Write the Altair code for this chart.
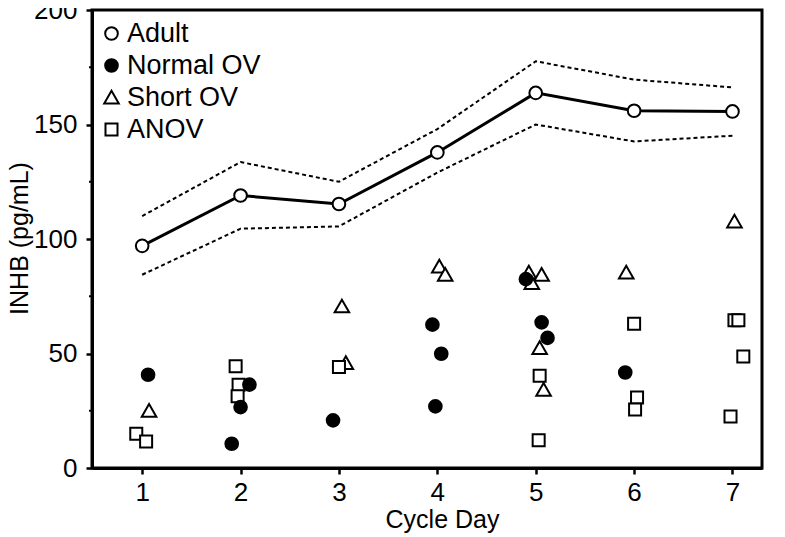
import altair as alt
import pandas as pd

# ---- data ----
days = [1, 2, 3, 4, 5, 6, 7]
adult_mean = [97, 119, 115.3, 137.8, 163.8, 156, 155.7]
adult_upper = [110, 133.6, 125, 148, 177.6, 169.6, 166.2]
adult_lower = [84.4, 104.5, 105.5, 129, 150, 142.6, 145.1]

normal_x = [1.06, 2.09, 2.00, 1.91, 2.94, 3.95, 4.04, 3.98, 4.90, 5.06, 5.12, 5.91]
normal_y = [40.7, 36.4, 26.6, 10.6, 20.8, 62.6, 49.9, 26.9, 82.5, 63.6, 56.8, 41.7]

short_x = [1.07, 3.07, 3.03, 4.02, 4.08, 4.93, 5.06, 4.96, 5.04, 5.08, 5.92, 7.02]
short_y = [25.0, 45.9, 70.6, 88.0, 84.4, 85.4, 84.4, 80.8, 52.4, 34.2, 85.4, 107.7]

anov_x = [0.94, 1.04, 1.95, 1.98, 1.97, 3.00, 5.04, 5.03, 6.00, 6.03, 6.01, 7.02, 7.06, 6.98, 7.11]
anov_y = [15.0, 11.6, 44.4, 36.4, 31.3, 44.1, 40.3, 12.1, 63.0, 30.8, 25.5, 64.5, 64.5, 22.5, 48.7]

groups = ["Adult", "Normal OV", "Short OV", "ANOV"]
TRI = "M0,-1.05L1.15,0.95L-1.15,0.95Z"
SQR = "M-0.95,-0.95L0.95,-0.95L0.95,0.95L-0.95,0.95Z"
shapes = ["circle", "circle", TRI, SQR]
fills = ["white", "black", "white", "white"]
strokes = ["black", "black", "black", "black"]

FONT = "Liberation Sans"

band = pd.DataFrame({
    "day": days * 2,
    "val": adult_upper + adult_lower,
    "bound": ["upper"] * 7 + ["lower"] * 7,
})
mean_df = pd.DataFrame({"day": days, "val": adult_mean})

pts = pd.DataFrame({
    "day": days + normal_x + short_x + anov_x,
    "val": adult_mean + normal_y + short_y + anov_y,
    "group": ["Adult"] * 7 + ["Normal OV"] * len(normal_x)
             + ["Short OV"] * len(short_x) + ["ANOV"] * len(anov_x),
})
order_map = {"Short OV": 0, "ANOV": 1, "Normal OV": 2, "Adult": 3}
pts["ord"] = pts["group"].map(order_map)

minor_df = pd.DataFrame({"val": [25, 75, 125, 175]})

xscale = alt.Scale(domain=[0.49, 7.3], nice=False, zero=False)
yscale = alt.Scale(domain=[0, 200], nice=False)

xaxis = alt.Axis(
    values=days, title="Cycle Day", format="d", grid=False,
    labelFont=FONT, labelFontSize=26, labelColor="black", labelPadding=5,
    tickSize=6, tickWidth=2.5, tickColor="black",
    domainColor="black", domainWidth=3,
    titleFont=FONT, titleFontSize=25, titleFontWeight="normal", titleColor="black",
    titleX=350, titleY=59, titleAnchor="middle", titleAlign="center", titleBaseline="alphabetic",
)
yaxis = alt.Axis(
    values=[0, 50, 100, 150, 200], title="INHB (pg/mL)", grid=False,
    labelFont=FONT, labelFontSize=26, labelColor="black", labelPadding=9,
    tickSize=6, tickWidth=2.5, tickColor="black",
    domainColor="black", domainWidth=3,
    titleFont=FONT, titleFontSize=25, titleFontWeight="normal", titleColor="black",
    titleX=-73, titleY=228, titleAngle=-90, titleAlign="center", titleBaseline="middle",
)

bounds = alt.Chart(band).mark_line(
    color="black", strokeWidth=2, strokeDash=[4, 3]
).encode(
    x=alt.X("day:Q", scale=xscale, axis=xaxis),
    y=alt.Y("val:Q", scale=yscale, axis=yaxis),
    detail="bound:N",
)

mean_line = alt.Chart(mean_df).mark_line(color="black", strokeWidth=3).encode(
    x=alt.X("day:Q", scale=xscale),
    y=alt.Y("val:Q", scale=yscale),
)

minor = alt.Chart(minor_df).mark_rule(color="black", strokeWidth=2).encode(
    y=alt.Y("val:Q", scale=yscale),
    x=alt.value(-3),
    x2=alt.value(0),
)

points = alt.Chart(pts).mark_point(
    filled=False, opacity=1, strokeWidth=2, size=160
).encode(
    x=alt.X("day:Q", scale=xscale),
    y=alt.Y("val:Q", scale=yscale),
    shape=alt.Shape("group:N", scale=alt.Scale(domain=groups, range=shapes), title=None),
    fill=alt.Fill("group:N", scale=alt.Scale(domain=groups, range=fills), title=None),
    stroke=alt.Stroke("group:N", scale=alt.Scale(domain=groups, range=strokes), title=None),
    order=alt.Order("ord:Q"),
)

chart = alt.layer(bounds, mean_line, minor, points).properties(
    width=670, height=458,
    autosize=alt.AutoSizeParams(type="none"),
    padding={"left": 84, "top": 2, "right": 15, "bottom": 68},
).configure_view(
    stroke="black", strokeWidth=3
).configure_legend(
    orient="none", legendX=6, legendY=10,
    labelFont=FONT, labelFontSize=27, labelColor="black",
    symbolStrokeWidth=2, symbolOpacity=1, symbolSize=160,
    rowPadding=4, labelOffset=2, padding=0,
)

chart.save("out.html", embed_options={"renderer": "svg", "actions": False})
